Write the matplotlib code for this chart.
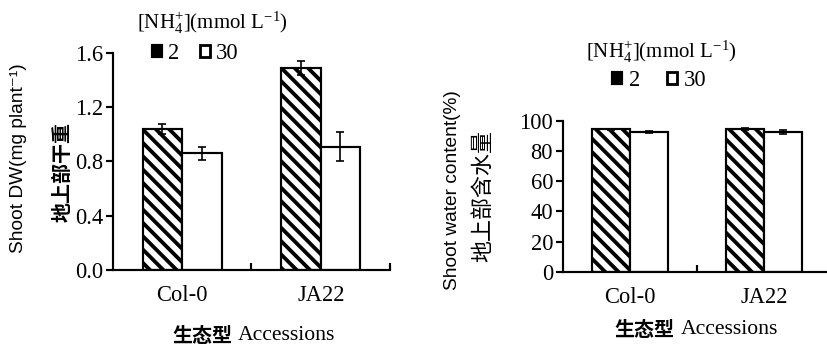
import matplotlib
matplotlib.use("Agg")
import matplotlib.pyplot as plt
from matplotlib.patches import Patch
import numpy as np

plt.rcParams['font.family'] = ['Liberation Serif', 'Noto Sans CJK SC']
plt.rcParams['mathtext.fontset'] = 'custom'
plt.rcParams['mathtext.rm'] = 'Liberation Serif'
plt.rcParams['mathtext.it'] = 'Liberation Serif:italic'
plt.rcParams['hatch.linewidth'] = 2.3
plt.rcParams['hatch.color'] = 'black'

# ---------------- data ----------------
accessions = ["Col-0", "JA22"]
nh4_levels = ["2", "30"]
dw_2 = [1.04, 1.49]
dw_2_err = [0.04, 0.05]
dw_30 = [0.86, 0.91]
dw_30_err = [0.05, 0.11]
wc_2 = [94.3, 94.6]
wc_2_err = [0.4, 0.6]
wc_30 = [92.6, 92.5]
wc_30_err = [0.8, 1.2]
dw_ticks = [0.0, 0.4, 0.8, 1.2, 1.6]
dw_ticklabels = ["0.0", "0.4", "0.8", "1.2", "1.6"]
wc_ticks = [0, 20, 40, 60, 80, 100]

DPI = 120
fig = plt.figure(figsize=(827 / DPI, 347 / DPI), dpi=DPI)

FS = 13.5
LW = 1.3
HATCH = '\\\\\\'

def draw_panel(ax, v2, e2, v30, e30, ylim, yticks, yticklabels):
    x = np.arange(len(accessions))
    w = 0.285
    ax.bar(x - w / 2, v2, w, facecolor='white', edgecolor='black', hatch=HATCH,
           linewidth=LW, zorder=2)
    ax.bar(x + w / 2, v30, w, facecolor='white', edgecolor='black',
           linewidth=LW, zorder=2)
    ax.errorbar(x - w / 2, v2, yerr=e2, fmt='none', ecolor='black', elinewidth=1.0,
                capsize=2.5, capthick=1.0, zorder=3)
    ax.errorbar(x + w / 2, v30, yerr=e30, fmt='none', ecolor='black', elinewidth=1.0,
                capsize=2.5, capthick=1.0, zorder=3)
    ax.set_xlim(-0.5, 1.5)
    ax.set_ylim(*ylim)
    for s in ['top', 'right']:
        ax.spines[s].set_visible(False)
    for s in ['left', 'bottom']:
        ax.spines[s].set_linewidth(LW)
    ax.set_yticks(yticks)
    ax.set_yticklabels(yticklabels, fontsize=FS, family='Liberation Serif')
    ax.tick_params(axis='y', direction='out', length=4, width=LW, pad=2)
    ax.set_xticks([0.5, 1.5])
    ax.set_xticklabels([])
    ax.tick_params(axis='x', which='major', direction='in', length=4, width=LW)
    ax.set_xticks(x, minor=True)
    ax.set_xticklabels(accessions, minor=True, fontsize=FS, family='Liberation Serif')
    ax.tick_params(axis='x', which='minor', length=0, pad=9)

# left panel
ax1 = fig.add_axes([0.1366, 0.2219, 0.335, 0.6254])
draw_panel(ax1, dw_2, dw_2_err, dw_30, dw_30_err, (0, 1.6), dw_ticks, dw_ticklabels)

# right panel
ax2 = fig.add_axes([0.6808, 0.217, 0.324, 0.435])
draw_panel(ax2, wc_2, wc_2_err, wc_30, wc_30_err, (0, 100), wc_ticks,
           [str(t) for t in wc_ticks])

title = r'[NH$_4^{+}$](mmol L$^{-1}$)'
fig.text(0.2563, 0.935, title, ha='center', va='center', fontsize=12.5,
         family='Liberation Serif')
fig.text(0.7993, 0.850, title, ha='center', va='center', fontsize=12.5,
         family='Liberation Serif')

handles = [Patch(facecolor='black', edgecolor='black', hatch='\\\\', linewidth=LW),
           Patch(facecolor='white', edgecolor='black', linewidth=LW * 1.3)]
leg1 = fig.legend(handles, nh4_levels, loc='center', bbox_to_anchor=(0.236, 0.847),
                  ncol=2, frameon=False, handlelength=0.45,
                  handleheight=0.45, handletextpad=0.25, columnspacing=0.9,
                  borderpad=0, prop={'family': 'Liberation Serif', 'size': FS})
leg2 = fig.legend(handles, nh4_levels, loc='center', bbox_to_anchor=(0.797, 0.768),
                  ncol=2, frameon=False, handlelength=0.45,
                  handleheight=0.45, handletextpad=0.3, columnspacing=1.2,
                  borderpad=0, prop={'family': 'Liberation Serif', 'size': FS})

# y labels
fig.text(0.0218, 0.5447, 'Shoot DW(mg plant\u207b\u00b9)', rotation=90, ha='center',
         va='center', fontsize=11.5, family=['Liberation Sans', 'DejaVu Sans'])
fig.text(0.075, 0.504, '地上部干重', rotation=90, ha='center', va='center',
         fontsize=12, fontweight='bold', family=['Noto Sans CJK SC'])
fig.text(0.5466, 0.4524, 'Shoot water content(%)', rotation=90, ha='center',
         va='center', fontsize=11.5, family=['Liberation Sans', 'DejaVu Sans'])
fig.text(0.584, 0.435, '地上部含水量', rotation=90, ha='center', va='center',
         fontsize=13.2, family=['Noto Sans CJK SC'])

# x labels
fig.text(0.281, 0.034, '生态型', ha='right', va='center', fontsize=12,
         fontweight='bold', family=['Noto Sans CJK SC'])
fig.text(0.287, 0.034, 'Accessions', ha='left', va='center', fontsize=13,
         family=['Liberation Serif'])
fig.text(0.816, 0.050, '生态型', ha='right', va='center', fontsize=12,
         fontweight='bold', family=['Noto Sans CJK SC'])
fig.text(0.823, 0.050, 'Accessions', ha='left', va='center', fontsize=13,
         family=['Liberation Serif'])

fig.savefig('out.png', dpi=DPI)
